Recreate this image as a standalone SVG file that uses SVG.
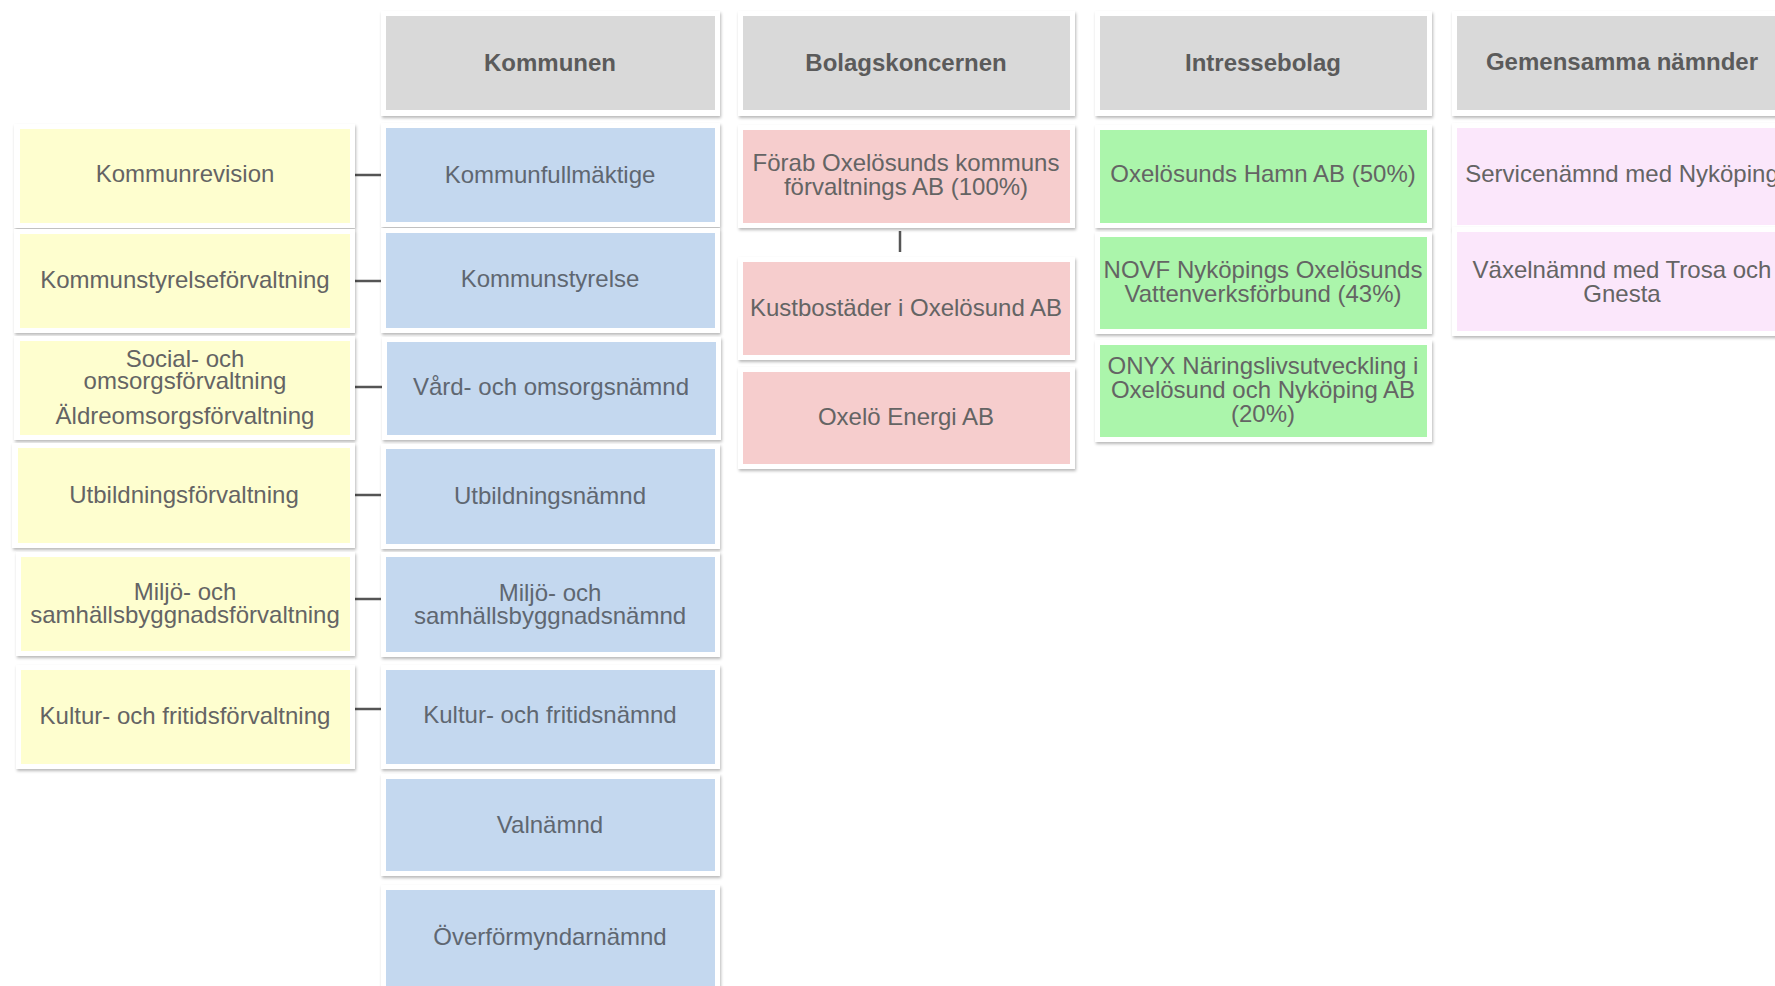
<svg xmlns="http://www.w3.org/2000/svg" width="1775" height="986" viewBox="0 0 1775 986">
<defs>
<filter id="sh" x="-5%" y="-10%" width="110%" height="125%">
<feDropShadow dx="1" dy="2" stdDeviation="1.6" flood-color="#000" flood-opacity="0.28"/>
</filter>
<style>
.card{fill:#ffffff;filter:url(#sh)}
.hd{fill:#d9d9d9}
.y{fill:#fefecf}
.b{fill:#c4d8ef}
.r{fill:#f6cdcd}
.g{fill:#abf5ab}
.p{fill:#fbe7fb}
text{font-family:"Liberation Sans",Arial,sans-serif;font-size:24px;fill:#646464;text-anchor:middle}
.bt{fill:#5f6771}
.ht{font-weight:bold;fill:#5b5b5b}
.c{stroke:#555555;stroke-width:2.5;fill:none}
</style>
</defs>
<rect width="1775" height="986" fill="#ffffff"/>

<g id="connectors">
<line class="c" x1="354" y1="175" x2="381" y2="175"/>
<line class="c" x1="354" y1="281" x2="381" y2="281"/>
<line class="c" x1="354" y1="387" x2="382" y2="387"/>
<line class="c" x1="354" y1="495" x2="382" y2="495"/>
<line class="c" x1="354" y1="599" x2="382" y2="599"/>
<line class="c" x1="354" y1="709" x2="382" y2="709"/>
<line class="c" x1="900" y1="231" x2="900" y2="252" stroke-width="2"/>
</g>

<!-- Headers -->
<g id="h-kommunen">
<rect class="card" x="381" y="11" width="339" height="105"/>
<rect class="hd" x="386" y="16" width="329" height="94"/>
<text class="ht" x="550" y="71">Kommunen</text>
</g>
<g id="h-bolag">
<rect class="card" x="738" y="11" width="337" height="105"/>
<rect class="hd" x="743" y="16" width="327" height="94"/>
<text class="ht" x="906" y="71">Bolagskoncernen</text>
</g>
<g id="h-intresse">
<rect class="card" x="1095" y="11" width="337" height="105"/>
<rect class="hd" x="1100" y="16" width="327" height="94"/>
<text class="ht" x="1263" y="71">Intressebolag</text>
</g>
<g id="h-gemensamma">
<rect class="card" x="1452" y="11" width="340" height="105"/>
<rect class="hd" x="1457" y="16" width="330" height="94"/>
<text class="ht" x="1622" y="70">Gemensamma nämnder</text>
</g>

<!-- Yellow column -->
<g id="kommunrevision">
<rect class="card" x="14" y="124" width="341" height="104"/>
<rect class="y" x="20" y="129" width="330" height="94"/>
<text x="185" y="182">Kommunrevision</text>
</g>
<g id="ks-forvaltning">
<rect class="card" x="14" y="229" width="341" height="104"/>
<rect class="y" x="20" y="234" width="330" height="94"/>
<text x="185" y="288">Kommunstyrelseförvaltning</text>
</g>
<g id="social">
<rect class="card" x="14" y="336" width="341" height="104"/>
<rect class="y" x="20" y="341" width="330" height="94"/>
<text x="185" y="367">Social- och</text>
<text x="185" y="389">omsorgsförvaltning</text>
<text x="185" y="424">Äldreomsorgsförvaltning</text>
</g>
<g id="utb-forvaltning">
<rect class="card" x="12" y="443" width="343" height="105"/>
<rect class="y" x="18" y="448" width="332" height="95"/>
<text x="184" y="503">Utbildningsförvaltning</text>
</g>
<g id="miljo-forvaltning">
<rect class="card" x="16" y="552" width="339" height="104"/>
<rect class="y" x="21" y="557" width="329" height="94"/>
<text x="185" y="600">Miljö- och</text>
<text x="185" y="623">samhällsbyggnadsförvaltning</text>
</g>
<g id="kultur-forvaltning">
<rect class="card" x="16" y="665" width="339" height="104"/>
<rect class="y" x="21" y="670" width="329" height="94"/>
<text x="185" y="724">Kultur- och fritidsförvaltning</text>
</g>

<!-- Blue column -->
<g id="kommunfullmaktige">
<rect class="card" x="381" y="123" width="339" height="104"/>
<rect class="b" x="386" y="128" width="329" height="94"/>
<text class="bt" x="550" y="183">Kommunfullmäktige</text>
</g>
<g id="kommunstyrelse">
<rect class="card" x="381" y="228" width="339" height="105"/>
<rect class="b" x="386" y="233" width="329" height="95"/>
<text class="bt" x="550" y="287">Kommunstyrelse</text>
</g>
<g id="vard">
<rect class="card" x="382" y="337" width="339" height="103"/>
<rect class="b" x="387" y="342" width="329" height="93"/>
<text class="bt" x="551" y="395">Vård- och omsorgsnämnd</text>
</g>
<g id="utbildningsnamnd">
<rect class="card" x="381" y="444" width="339" height="105"/>
<rect class="b" x="386" y="449" width="329" height="95"/>
<text class="bt" x="550" y="504">Utbildningsnämnd</text>
</g>
<g id="miljo-namnd">
<rect class="card" x="381" y="552" width="339" height="105"/>
<rect class="b" x="386" y="557" width="329" height="95"/>
<text class="bt" x="550" y="601">Miljö- och</text>
<text class="bt" x="550" y="624">samhällsbyggnadsnämnd</text>
</g>
<g id="kultur-namnd">
<rect class="card" x="381" y="665" width="339" height="104"/>
<rect class="b" x="386" y="670" width="329" height="94"/>
<text class="bt" x="550" y="723">Kultur- och fritidsnämnd</text>
</g>
<g id="valnamnd">
<rect class="card" x="381" y="774" width="339" height="102"/>
<rect class="b" x="386" y="779" width="329" height="92"/>
<text class="bt" x="550" y="833">Valnämnd</text>
</g>
<g id="overformyndarnamnd">
<rect class="card" x="381" y="885" width="339" height="110"/>
<rect class="b" x="386" y="890" width="329" height="100"/>
<text class="bt" x="550" y="945">Överförmyndarnämnd</text>
</g>

<!-- Red column -->
<g id="forab">
<rect class="card" x="738" y="125" width="337" height="103"/>
<rect class="r" x="743" y="130" width="327" height="93"/>
<text x="906" y="171">Förab Oxelösunds kommuns</text>
<text x="906" y="195">förvaltnings AB (100%)</text>
</g>
<g id="kustbostader">
<rect class="card" x="738" y="257" width="337" height="103"/>
<rect class="r" x="743" y="262" width="327" height="93"/>
<text x="906" y="316">Kustbostäder i Oxelösund AB</text>
</g>
<g id="oxelo-energi">
<rect class="card" x="738" y="367" width="337" height="102"/>
<rect class="r" x="743" y="372" width="327" height="92"/>
<text x="906" y="425">Oxelö Energi AB</text>
</g>

<!-- Green column -->
<g id="hamn">
<rect class="card" x="1095" y="125" width="337" height="103"/>
<rect class="g" x="1100" y="130" width="327" height="93"/>
<text x="1263" y="182">Oxelösunds Hamn AB (50%)</text>
</g>
<g id="novf">
<rect class="card" x="1095" y="232" width="337" height="102"/>
<rect class="g" x="1100" y="237" width="327" height="92"/>
<text x="1263" y="278">NOVF Nyköpings Oxelösunds</text>
<text x="1263" y="302">Vattenverksförbund (43%)</text>
</g>
<g id="onyx">
<rect class="card" x="1095" y="340" width="337" height="102"/>
<rect class="g" x="1100" y="345" width="327" height="92"/>
<text x="1263" y="374">ONYX Näringslivsutveckling i</text>
<text x="1263" y="398">Oxelösund och Nyköping AB</text>
<text x="1263" y="422">(20%)</text>
</g>

<!-- Lilac column -->
<g id="servicenamnd">
<rect class="card" x="1452" y="123" width="340" height="107"/>
<rect class="p" x="1457" y="128" width="330" height="97"/>
<text x="1622" y="182">Servicenämnd med Nyköping</text>
</g>
<g id="vaxelnamnd">
<rect class="card" x="1452" y="227" width="340" height="109"/>
<rect class="p" x="1457" y="232" width="330" height="99"/>
<text x="1622" y="278">Växelnämnd med Trosa och</text>
<text x="1622" y="302">Gnesta</text>
</g>
</svg>
